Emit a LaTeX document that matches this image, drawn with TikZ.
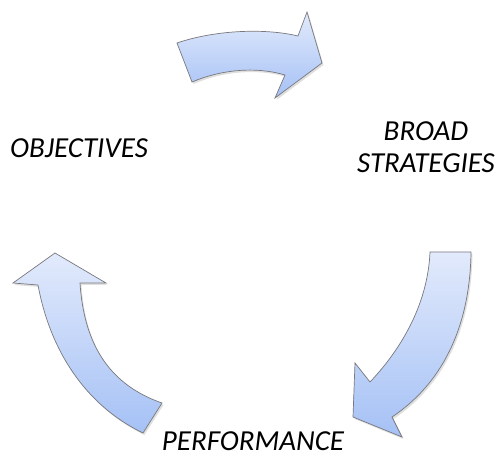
\documentclass[tikz,border=0pt]{standalone}
\usepackage{fontspec}
\setmainfont{Carlito}
\usepackage{xcolor}
\usepackage{tikz}
\usetikzlibrary{positioning,shadows}

\definecolor{arrowlight}{RGB}{226,234,252}
\definecolor{arrowdark}{RGB}{165,193,245}
\definecolor{arrowline}{RGB}{120,120,125}

\begin{document}
\begin{tikzpicture}[x=1pt,y=-1pt,
    bluearrow/.style={draw=arrowline,line width=0.7pt,line join=miter,
        top color=arrowlight,bottom color=arrowdark,
        drop shadow={shadow xshift=1.5pt,shadow yshift=-2pt,opacity=0.25}},
    steplabel/.style={font=\fontsize{29}{32}\selectfont\itshape,align=center,inner sep=0pt}]
    \useasboundingbox (0,0) rectangle (499,457);

    \node[steplabel] (objectives) at (79,148) {OBJECTIVES};
    \node[steplabel] (strategies) at (426,147) {BROAD\\STRATEGIES};
    \node[font=\fontsize{29}{32}\selectfont\itshape,inner sep=0pt,text depth=0pt,anchor=base]
        (performance) at (253,451) {PERFORMANCE};

    % top arrow
    \path[bluearrow] (177,43) .. controls (215,30) and (265,28) .. (298,36)
        -- (307,12) -- (322,63) -- (275,98) -- (285,75)
        .. controls (255,66) and (220,70) .. (192,82) -- cycle;

    % right arrow
    \path[bluearrow] (430,252) -- (471,252)
        .. controls (470,330) and (440,385) .. (392,417)
        -- (402,437) -- (353,417) -- (355,363) -- (370,382)
        .. controls (405,345) and (428,300) .. (430,252) -- cycle;

    % left arrow
    \path[bluearrow] (55,253) -- (106,283) -- (80,283)
        .. controls (84,345) and (110,385) .. (162,403)
        -- (143,433)
        .. controls (85,405) and (50,350) .. (38,285)
        -- (13,283) -- cycle;
\end{tikzpicture}
\end{document}
